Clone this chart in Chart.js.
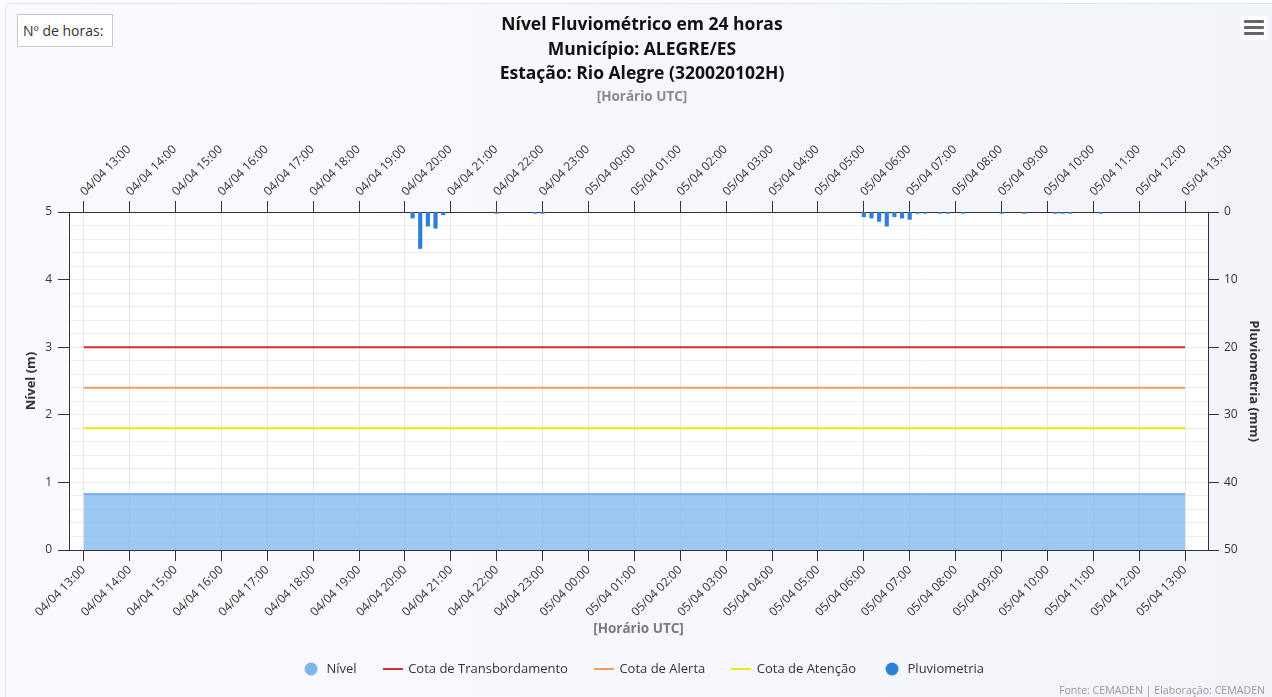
<!DOCTYPE html>
<html>
<head>
<meta charset="utf-8">
<script src="https://cdn.jsdelivr.net/npm/chart.js@4.4.1/dist/chart.umd.min.js"></script>
<style>
html,body{margin:0;padding:0;width:1272px;height:697px;overflow:hidden;background:#fdfdff;font-family:"Open Sans",sans-serif;}
#frame{position:absolute;left:5px;top:3px;width:1300px;height:720px;border:1px solid #d3ecf4;border-radius:5px;background:linear-gradient(90deg,#fafafe,#f3f3fb);}
#cv{position:absolute;left:0;top:0;}
#title{position:absolute;left:342px;width:600px;top:11px;text-align:center;font-weight:bold;font-size:17.5px;line-height:24.5px;color:#111;}
#sub{position:absolute;left:342px;width:600px;top:87px;text-align:center;font-weight:bold;font-size:13.5px;line-height:18px;color:#8a8a8a;}
#horas{position:absolute;left:17px;top:14px;width:96px;height:33px;border:1px solid #c8c8c8;background:#fff;font-size:14px;color:#333;line-height:31px;box-sizing:border-box;padding-left:5px;}
#menu{position:absolute;left:1240px;top:16px;width:28px;height:24px;border-radius:3px;background:#fcfcff;}
#menu span{position:absolute;left:4px;width:20px;height:3px;border-radius:1px;background:#666;}
#credits{position:absolute;right:7px;top:683px;font-size:10.6px;color:#999;}
</style>
</head>
<body>
<div id="frame"></div>
<canvas id="cv" width="1272" height="697"></canvas>
<div id="title">Nível Fluviométrico em 24 horas<br>Município: ALEGRE/ES<br>Estação: Rio Alegre (320020102H)</div>
<div id="sub">[Horário UTC]</div>
<div id="horas">Nº de horas:</div>
<div id="menu"><span style="top:4px"></span><span style="top:10px"></span><span style="top:16px"></span></div>
<div id="credits">Fonte: CEMADEN | Elaboração: CEMADEN</div>
<script>
// ---- data ----
const xTickLabels = ["04/04 13:00","04/04 14:00","04/04 15:00","04/04 16:00","04/04 17:00","04/04 18:00","04/04 19:00","04/04 20:00","04/04 21:00","04/04 22:00","04/04 23:00","05/04 00:00","05/04 01:00","05/04 02:00","05/04 03:00","05/04 04:00","05/04 05:00","05/04 06:00","05/04 07:00","05/04 08:00","05/04 09:00","05/04 10:00","05/04 11:00","05/04 12:00","05/04 13:00"];
const levelValues = [0.83,0.83,0.83,0.83,0.83,0.83,0.83,0.83,0.83,0.83,0.83,0.83,0.83,0.83,0.83,0.83,0.83,0.83,0.83,0.83,0.83,0.83,0.83,0.83,0.83];
const cotaTransbordamento = 3.0;
const cotaAlerta = 2.4;
const cotaAtencao = 1.8;
const rainTimes = ["04/04 20:10","04/04 20:20","04/04 20:30","04/04 20:40","04/04 20:50","04/04 22:00","04/04 22:50","04/04 23:00",
  "05/04 06:00","05/04 06:10","05/04 06:20","05/04 06:30","05/04 06:40","05/04 06:50","05/04 07:00","05/04 07:10","05/04 07:20",
  "05/04 07:40","05/04 07:50","05/04 08:10","05/04 09:00","05/04 09:30","05/04 10:10","05/04 10:20","05/04 10:30","05/04 11:10"];
const rainValues = [0.9,5.4,2.1,2.4,0.4,0.2,0.2,0.2,
  0.7,0.9,1.4,2.1,0.7,0.9,1.1,0.2,0.2,
  0.2,0.2,0.2,0.2,0.2,0.2,0.2,0.2,0.2];
const yLeftTicks = [0,0.2,0.4,0.6,0.8,1,1.2,1.4,1.6,1.8,2,2.2,2.4,2.6,2.8,3,3.2,3.4,3.6,3.8,4,4.2,4.4,4.6,4.8,5];
const yRightTicks = [0,10,20,30,40,50];

// ---- helpers ----
function toHours(label){
  const day = parseInt(label.slice(0,2),10);
  const h = parseInt(label.slice(6,8),10);
  const m = parseInt(label.slice(9,11),10);
  return (day-4)*24 + h + m/60 - 13;
}
const isInt = v => Math.abs(v - Math.round(v)) < 1e-6;
const hourPos = xTickLabels.map(toHours);
const firstH = hourPos[0], lastH = hourPos[hourPos.length-1];

const colNivel = '#7cb5ec', colTrans = '#d22f2f', colAlerta = '#f39a58', colAtencao = '#f2e600', colPluv = '#2f7ed8';

function legLine(color){ const c=document.createElement('canvas'); c.width=20; c.height=4; const g=c.getContext('2d'); g.fillStyle=color; g.fillRect(0,1,20,2); return c; }
function legDot(color){ const c=document.createElement('canvas'); c.width=14; c.height=14; const g=c.getContext('2d'); g.fillStyle=color; g.beginPath(); g.arc(7,7,6.5,0,Math.PI*2); g.fill(); return c; }

const plotBg = { id:'plotBg', beforeDraw(c){ const {ctx, chartArea:a} = c; ctx.save(); ctx.fillStyle='#ffffff'; ctx.fillRect(a.left,a.top,a.right-a.left,a.bottom-a.top); ctx.restore(); } };

Chart.defaults.font.family = "'Open Sans', sans-serif";
Chart.defaults.color = '#333';

const xCommon = {
  type:'linear', min:-0.32, max:24.5, offset:false,
  afterBuildTicks: s => { s.ticks = hourPos.map(v => ({value:v})); },
  border:{ color:'#333', width:1 }
};
const xTickFmt = v => { const i = hourPos.indexOf(v); return i>=0 ? xTickLabels[i] : ''; };

new Chart(document.getElementById('cv'), {
  type:'line',
  data:{
    datasets:[
      { label:'Nível', data: hourPos.map((h,i)=>({x:h, y:levelValues[i]})), xAxisID:'x', yAxisID:'y',
        borderColor:colNivel, backgroundColor:'rgba(124,181,236,0.75)', borderWidth:2, fill:'origin', pointRadius:0, tension:0 },
      { label:'Cota de Transbordamento', data:[{x:firstH,y:cotaTransbordamento},{x:lastH,y:cotaTransbordamento}], xAxisID:'x', yAxisID:'y',
        borderColor:colTrans, borderWidth:2, pointRadius:0, fill:false },
      { label:'Cota de Alerta', data:[{x:firstH,y:cotaAlerta},{x:lastH,y:cotaAlerta}], xAxisID:'x', yAxisID:'y',
        borderColor:colAlerta, borderWidth:2, pointRadius:0, fill:false },
      { label:'Cota de Atenção', data:[{x:firstH,y:cotaAtencao},{x:lastH,y:cotaAtencao}], xAxisID:'x', yAxisID:'y',
        borderColor:colAtencao, borderWidth:2, pointRadius:0, fill:false },
      { type:'bar', label:'Pluviometria', data: rainTimes.map((t,i)=>({x:toHours(t), y:rainValues[i]})), xAxisID:'x', yAxisID:'y2',
        backgroundColor:colPluv, borderWidth:0, barThickness:3.5 }
    ]
  },
  options:{
    responsive:false, animation:false, devicePixelRatio:1,
    layout:{ padding:{ left:20, right:6, top:10, bottom:11.5 } },
    plugins:{
      tooltip:{ enabled:false },
      title:{ display:false },
      legend:{
        position:'bottom',
        labels:{
          font:{size:13}, color:'#333', padding:27, usePointStyle:true, pointStyleWidth:18,
          generateLabels: chart => {
            const styles = [legDot(colNivel), legLine(colTrans), legLine(colAlerta), legLine(colAtencao), legDot(colPluv)];
            return chart.data.datasets.map((ds,i)=>({ text:ds.label, pointStyle:styles[i], fillStyle:'#000', strokeStyle:'#000', lineWidth:0, hidden:false, datasetIndex:i, fontColor:'#333' }));
          }
        }
      }
    },
    scales:{
      x: Object.assign({}, xCommon, {
        position:'bottom',
        afterFit: s => { s.height = 85.5; },
        ticks:{ autoSkip:false, minRotation:45, maxRotation:45, color:'#333', font:{size:12}, padding:2, callback: xTickFmt },
        grid:{ color:'#e6e6e6', lineWidth:1, tickColor:'#333', tickLength:11, offset:false },
        title:{ display:true, text:'[Horário UTC]', color:'#7a7a7a', font:{size:13.5, weight:'bold'}, padding:{top:0,bottom:-2} }
      }),
      x2: Object.assign({}, xCommon, {
        position:'top',
        afterFit: s => { s.height = 202; },
        ticks:{ autoSkip:false, minRotation:45, maxRotation:45, color:'#333', font:{size:12}, padding:2, labelOffset:9, callback: xTickFmt },
        grid:{ drawOnChartArea:false, tickColor:'#333', tickLength:11, offset:false }
      }),
      y: {
        type:'linear', position:'left', min:0, max:5,
        afterBuildTicks: s => { s.ticks = yLeftTicks.map(v => ({value:v})); },
        afterFit: s => { s.width = 49; },
        ticks:{ autoSkip:false, color:'#333', font:{size:12}, padding:6, callback: v => isInt(v) ? String(Math.round(v)) : '' },
        grid:{ color:'#ececec', lineWidth:1, tickLength:11, tickColor: c => (c.tick && isInt(c.tick.value)) ? '#333' : 'rgba(0,0,0,0)' },
        border:{ color:'#333', width:1 },
        title:{ display:true, text:'Nível (m)', color:'#333', font:{size:13, weight:'bold'}, padding:{top:3,bottom:0} }
      },
      y2: {
        type:'linear', position:'right', min:0, max:50, reverse:true,
        afterBuildTicks: s => { s.ticks = yRightTicks.map(v => ({value:v})); },
        afterFit: s => { s.width = 58; },
        ticks:{ autoSkip:false, color:'#333', font:{size:12}, padding:5 },
        grid:{ drawOnChartArea:false, tickLength:11, tickColor:'#333' },
        border:{ color:'#333', width:1 },
        title:{ display:true, text:'Pluviometria (mm)', color:'#333', font:{size:13, weight:'bold'}, padding:{top:4,bottom:0} }
      }
    }
  },
  plugins:[plotBg]
});
</script>
</body>
</html>
